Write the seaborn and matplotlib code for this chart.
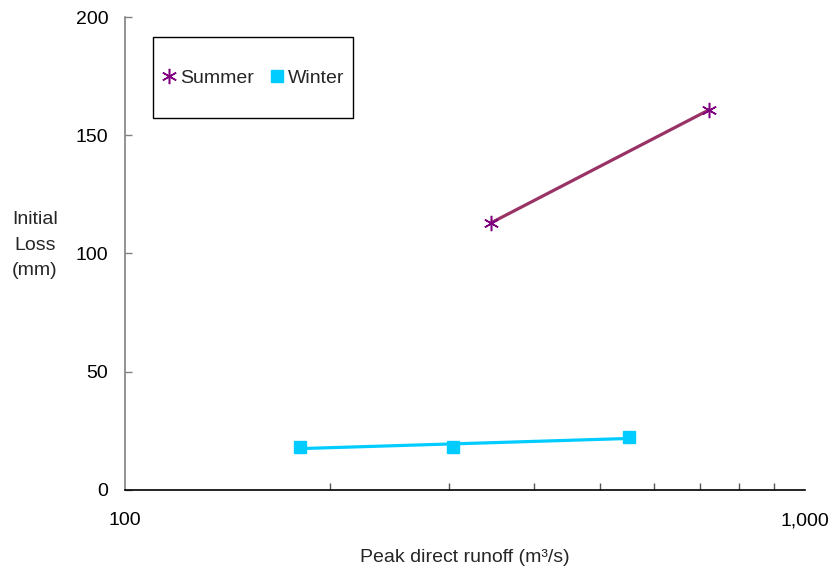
import numpy as np
import pandas as pd
import matplotlib
matplotlib.use("Agg")
import matplotlib.pyplot as plt
import seaborn as sns
from matplotlib.ticker import FixedLocator, FuncFormatter, NullFormatter
from matplotlib.patches import Rectangle

summer_x = [345, 722]
summer_y = [112.9, 160.7]
winter_x = [181, 304, 551]
winter_y = [18.2, 18.2, 22.4]

sns.set_style("white")
plt.rcParams['font.family'] = ['Liberation Sans', 'DejaVu Sans']

W, H = 831, 568
fig = plt.figure(figsize=(W/100, H/100), dpi=100)
ax = fig.add_axes([125/W, (H-490)/H, 680/W, 473/H])

summer_col_line = '#993366'
summer_col_mark = '#800080'
winter_col = '#00CCFF'

sdf = pd.DataFrame({'x': summer_x, 'y': summer_y})
wdf = pd.DataFrame({'x': winter_x, 'y': winter_y})

sns.regplot(data=sdf, x='x', y='y', logx=True, ci=None, scatter=False, truncate=True,
            line_kws=dict(color=summer_col_line, lw=2.3), ax=ax)
sns.regplot(data=wdf, x='x', y='y', logx=True, ci=None, scatter=False, truncate=True,
            line_kws=dict(color=winter_col, lw=2.3), ax=ax)

ax.plot(sdf['x'], sdf['y'], linestyle='none', marker=(6, 2, 0), markersize=11,
        markeredgewidth=1.1, color=summer_col_mark, label='Summer', zorder=5)
ax.plot(wdf['x'], wdf['y'], linestyle='none', marker='s', markersize=9,
        color=winter_col, label='Winter', zorder=5)

ax.set_xscale('log')
ax.set_xlim(100, 1000)
ax.set_ylim(0, 200)
ax.xaxis.set_major_locator(FixedLocator([100, 1000]))
ax.xaxis.set_major_formatter(FuncFormatter(lambda v, p: f"{int(round(v)):,}"))
ax.xaxis.set_minor_locator(FixedLocator([200, 300, 400, 500, 600, 700, 800, 900]))
ax.xaxis.set_minor_formatter(NullFormatter())
ax.set_yticks([0, 50, 100, 150, 200])

for s in ['top', 'right']:
    ax.spines[s].set_visible(False)
ax.spines['left'].set_color('#808080')
ax.spines['bottom'].set_color('black')
ax.spines['left'].set_linewidth(1.2)
ax.spines['bottom'].set_linewidth(1.2)

ax.tick_params(bottom=True, left=True, which='both')
ax.tick_params(axis='x', which='major', direction='in', length=0, labelsize=14, pad=16,
               colors='black')
ax.tick_params(axis='x', which='minor', direction='in', length=5, width=1, colors='#555555')
ax.tick_params(axis='y', which='major', direction='in', length=5, width=1, labelsize=14,
               pad=12, colors='#808080', labelcolor='black')
ax.tick_params(axis='x', labelcolor='black')

ax.set_xlabel('Peak direct runoff (m\u00b3/s)', fontsize=14, labelpad=14)
ax.set_ylabel('Initial\nLoss\n(mm)', fontsize=14, rotation=0, ha='center', va='center',
              labelpad=0, linespacing=1.65)
ax.yaxis.set_label_coords(-90/680, (490-245)/473)

# legend box frame (asymmetric padding as in reference)
fig.patches.append(Rectangle((153/W, 1-118/H), 200/W, 81/H, transform=fig.transFigure,
                             fill=False, edgecolor='black', linewidth=1.0, zorder=10))
leg = ax.legend(loc='center', bbox_to_anchor=(253/W, 1-78/H),
                bbox_transform=fig.transFigure, ncol=2, frameon=False, fontsize=14,
                handletextpad=0.15, columnspacing=0.8, borderpad=0, handlelength=0.8,
                borderaxespad=0, handleheight=0.7)

fig.savefig('out.png', dpi=100)
